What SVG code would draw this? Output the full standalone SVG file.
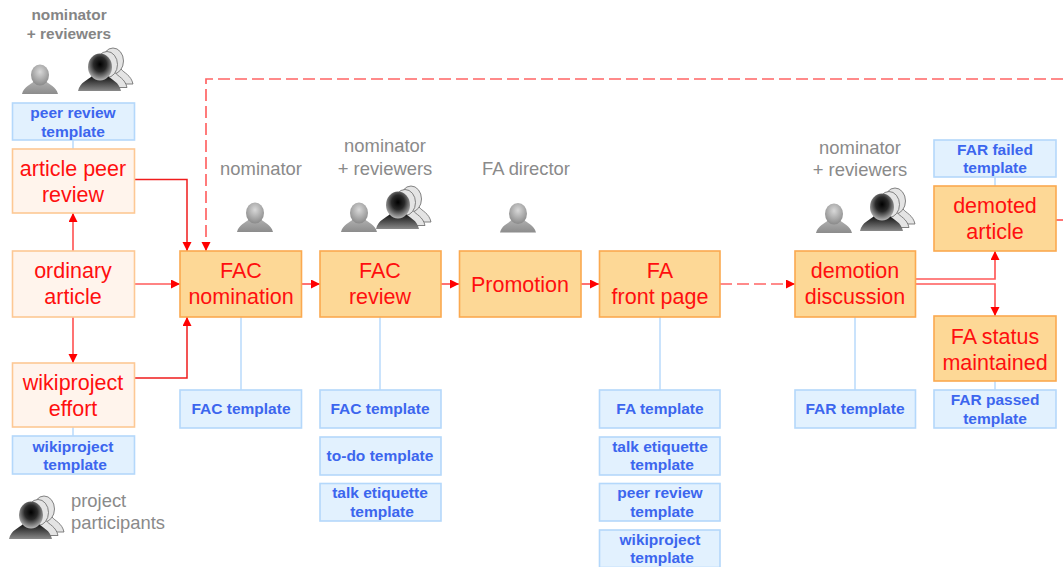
<svg xmlns="http://www.w3.org/2000/svg" xmlns:xlink="http://www.w3.org/1999/xlink" width="1063" height="567" viewBox="0 0 1063 567">
<style>
text{font-family:"Liberation Sans",Arial,sans-serif;text-anchor:middle}
.pale{fill:#fff4ec;stroke:#fdc894;stroke-width:1.6}
.fa{fill:#fdd896;stroke:#fba94f;stroke-width:1.6}
.tpl{fill:#e2f1fe;stroke:#b4d8fb;stroke-width:1.6}
.lbl{font-size:21.5px;fill:#ff0f0f}
.tt{font-size:15.5px;font-weight:700;fill:#3c66ee}
.role{font-size:18.4px;fill:#8a8a8a}
.roleb{font-size:15.4px;font-weight:700;fill:#858585}
.link{stroke:#b4d8fb;stroke-width:1.4;fill:none}
.arr{stroke:#ff5a5a;stroke-width:1.7;fill:none;marker-end:url(#head)}
.solid{stroke:#f01c1c;stroke-width:1.5;fill:none;marker-end:url(#head)}
.dash{stroke:#ff6464;stroke-width:1.7;fill:none;stroke-dasharray:12 5;marker-end:url(#head)}
.plain{stroke:#ff5a5a;stroke-width:1.7;fill:none}
</style>
<defs>
<marker id="head" markerUnits="userSpaceOnUse" markerWidth="10" markerHeight="10" refX="9" refY="4.5" orient="auto"><path d="M0,0L9,4.5L0,9Z" fill="#ff0000"/></marker>
<radialGradient id="gs" cx="50%" cy="35%" r="65%"><stop offset="0" stop-color="#d8d8d8"/><stop offset="1" stop-color="#8a8a8a"/></radialGradient>
<linearGradient id="gb" x1="0" y1="0" x2="0" y2="1"><stop offset="0" stop-color="#b0b0b0"/><stop offset="1" stop-color="#8c8c8c"/></linearGradient>
<radialGradient id="gd" cx="50%" cy="40%" r="60%"><stop offset="0" stop-color="#000"/><stop offset=".45" stop-color="#2a2a2a"/><stop offset="1" stop-color="#b8b8b8"/></radialGradient>
<linearGradient id="gk" x1="0" y1="0" x2="0" y2="1"><stop offset="0" stop-color="#111"/><stop offset="1" stop-color="#8a8a8a"/></linearGradient>
<g id="person"><path d="M-18,0C-16,-8 -9,-9 -6,-13L6,-13C9,-9 16,-8 18,0Z" fill="url(#gb)"/><ellipse cx="0" cy="-19" rx="9" ry="10.5" fill="url(#gs)"/></g>
<g id="back"><path d="M-20,0C-18,-9 -11,-11 -8,-15L8,-15C11,-11 18,-9 20,0Z" fill="#e4e4e4" stroke="#666" stroke-width=".8"/><ellipse cx="0" cy="-23" rx="10.5" ry="13" fill="#e4e4e4" stroke="#666" stroke-width=".8"/></g>
<g id="group"><use xlink:href="#back" x="13" y="-7"/><use xlink:href="#back" x="7" y="-3.500"/><path d="M-22,0C-20,-9 -12,-11 -8,-15L8,-15C12,-11 19,-9 21,0Z" fill="url(#gk)"/><ellipse cx="0" cy="-24" rx="12" ry="13.500" fill="url(#gd)"/></g>
</defs>
<rect width="1063" height="567" fill="#fff"/>
<g id="connectors">
<path class="link" d="M73,140V149M73,427V436M241,317V390M380,317V390M660,317V390M855,317V390M995,177V186M995,381V390"/>
<path class="arr" d="M73,251V213"/>
<path class="arr" d="M73,317V363"/>
<path class="arr" d="M134,284H180"/>
<path class="solid" d="M134,179.500H187V251"/>
<path class="solid" d="M134,378H187V317"/>
<path class="dash" d="M1063,79H206V251"/>
<path class="arr" d="M301,284H320"/>
<path class="arr" d="M441,284H459"/>
<path class="arr" d="M581,284H599"/>
<path class="dash" d="M720,284H795"/>
<path class="arr" d="M915,279H995V251"/>
<path class="arr" d="M915,284H995V316"/>
<path class="plain" d="M1055,220H1063"/>
</g>
<g id="actors">
<use xlink:href="#person" x="40" y="94"/><use xlink:href="#group" x="100" y="91"/>
<use xlink:href="#person" x="255" y="232"/>
<use xlink:href="#person" x="359" y="232"/><use xlink:href="#group" x="398" y="229"/>
<use xlink:href="#person" x="518" y="232.500"/>
<use xlink:href="#person" x="834" y="233"/><use xlink:href="#group" x="882" y="231"/>
<use xlink:href="#group" x="31" y="539"/>
<text class="roleb" x="69" y="20">nominator</text><text class="roleb" x="69" y="39">+ reviewers</text>
<text class="role" x="261" y="175">nominator</text>
<text class="role" x="385" y="152">nominator</text><text class="role" x="385" y="174.500">+ reviewers</text>
<text class="role" x="526" y="174.500">FA director</text>
<text class="role" x="860" y="153.500">nominator</text><text class="role" x="860" y="176">+ reviewers</text>
<text class="role" x="71" y="507" style="text-anchor:start">project</text><text class="role" x="71" y="529" style="text-anchor:start">participants</text>
</g>
<g id="n-peer-template"><rect class="tpl" x="12.500" y="103" width="122" height="37"/><text class="tt" x="73" y="118">peer review</text><text class="tt" x="73" y="136.500">template</text></g>
<g id="n-article-peer-review"><rect class="pale" x="12.500" y="149" width="122" height="64"/><text class="lbl" x="73" y="176">article peer</text><text class="lbl" x="73" y="202">review</text></g>
<g id="n-ordinary"><rect class="pale" x="12.500" y="251" width="122" height="66"/><text class="lbl" x="73" y="278">ordinary</text><text class="lbl" x="73" y="304">article</text></g>
<g id="n-wikiproject"><rect class="pale" x="12.500" y="363" width="122" height="64"/><text class="lbl" x="73" y="390">wikiproject</text><text class="lbl" x="73" y="416">effort</text></g>
<g id="n-wiki-template"><rect class="tpl" x="12.500" y="436" width="122" height="38"/><text class="tt" x="73" y="452">wikiproject</text><text class="tt" x="75" y="470">template</text></g>
<g id="n-fac-nomination"><rect class="fa" x="180" y="251" width="121.500" height="66"/><text class="lbl" x="241" y="278">FAC</text><text class="lbl" x="241" y="304">nomination</text></g>
<g id="n-fac-review"><rect class="fa" x="320" y="251" width="121" height="66"/><text class="lbl" x="380" y="278">FAC</text><text class="lbl" x="380" y="304">review</text></g>
<g id="n-promotion"><rect class="fa" x="459.500" y="251" width="121.500" height="66"/><text class="lbl" x="520" y="292">Promotion</text></g>
<g id="n-fa-front"><rect class="fa" x="599.500" y="251" width="120.500" height="66"/><text class="lbl" x="660" y="278">FA</text><text class="lbl" x="660" y="304">front page</text></g>
<g id="n-demotion"><rect class="fa" x="795" y="251" width="120.500" height="66"/><text class="lbl" x="855" y="278">demotion</text><text class="lbl" x="855" y="304">discussion</text></g>
<g id="n-far-failed"><rect class="tpl" x="934" y="140" width="122" height="37"/><text class="tt" x="995" y="155">FAR failed</text><text class="tt" x="995" y="173">template</text></g>
<g id="n-demoted"><rect class="fa" x="934" y="186" width="122" height="65"/><text class="lbl" x="995" y="213">demoted</text><text class="lbl" x="995" y="238.500">article</text></g>
<g id="n-fa-status"><rect class="fa" x="934" y="316" width="122" height="65"/><text class="lbl" x="995" y="344">FA status</text><text class="lbl" x="995" y="370">maintained</text></g>
<g id="n-far-passed"><rect class="tpl" x="934" y="390" width="122" height="38"/><text class="tt" x="995" y="405">FAR passed</text><text class="tt" x="995" y="424">template</text></g>
<g id="n-t-fac1"><rect class="tpl" x="180" y="390" width="121.500" height="38"/><text class="tt" x="241" y="414">FAC template</text></g>
<g id="n-t-fac2"><rect class="tpl" x="320" y="390" width="121" height="38"/><text class="tt" x="380" y="414">FAC template</text></g>
<g id="n-t-todo"><rect class="tpl" x="320" y="437" width="121" height="38"/><text class="tt" x="380" y="461">to-do template</text></g>
<g id="n-t-talk1"><rect class="tpl" x="320" y="483.500" width="121" height="37.500"/><text class="tt" x="380" y="498">talk etiquette</text><text class="tt" x="382" y="517">template</text></g>
<g id="n-t-fa"><rect class="tpl" x="599.500" y="390" width="120.500" height="38"/><text class="tt" x="660" y="414">FA template</text></g>
<g id="n-t-talk2"><rect class="tpl" x="599.500" y="437" width="120.500" height="38"/><text class="tt" x="660" y="452">talk etiquette</text><text class="tt" x="662" y="470">template</text></g>
<g id="n-t-peer"><rect class="tpl" x="599.500" y="483.500" width="120.500" height="37.500"/><text class="tt" x="660" y="498">peer review</text><text class="tt" x="662" y="517">template</text></g>
<g id="n-t-wiki"><rect class="tpl" x="599.500" y="530" width="120.500" height="37.500"/><text class="tt" x="660" y="545">wikiproject</text><text class="tt" x="662" y="563">template</text></g>
<g id="n-t-far"><rect class="tpl" x="795" y="390" width="120.500" height="38"/><text class="tt" x="855" y="414">FAR template</text></g>
</svg>
